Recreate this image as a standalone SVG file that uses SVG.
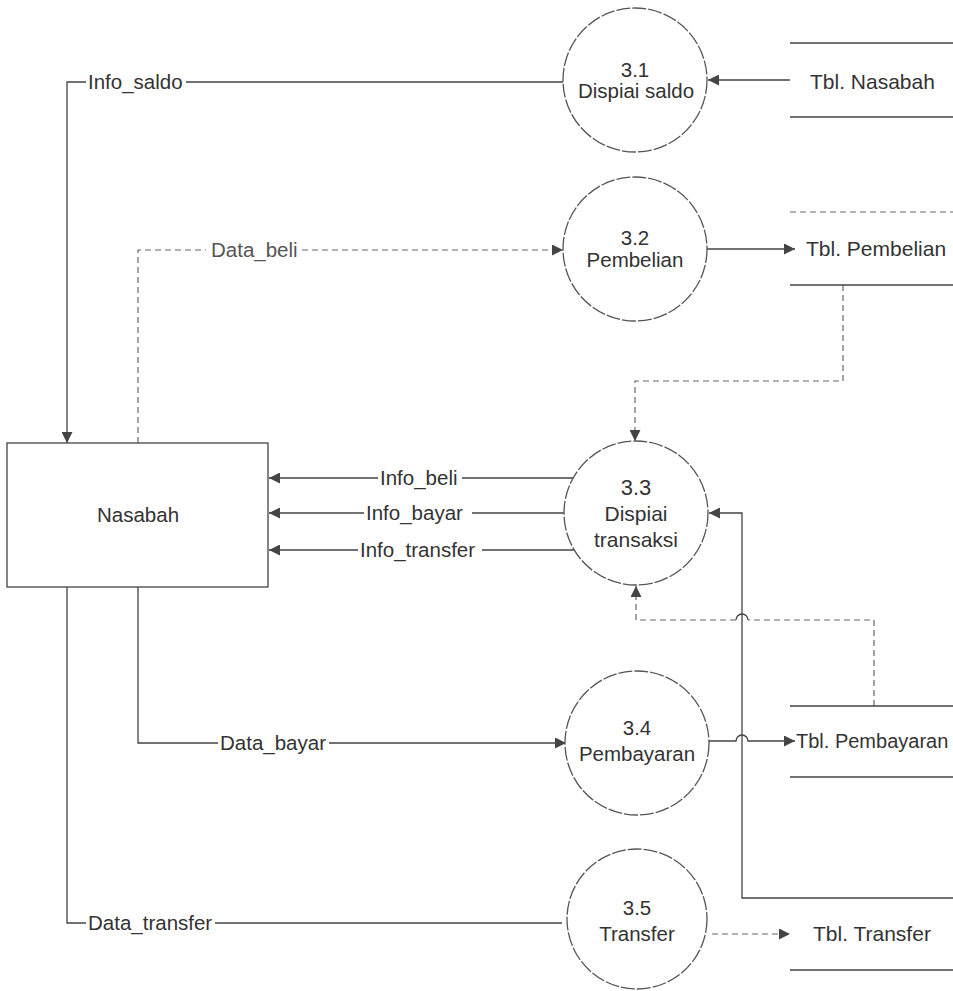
<svg xmlns="http://www.w3.org/2000/svg" width="953" height="991" viewBox="0 0 953 991">
<defs>
<style>
.t{font-family:"Liberation Sans",Arial,sans-serif;font-size:20.5px;fill:#333}
.st{font-family:"Liberation Sans",Arial,sans-serif;font-size:21px;fill:#333}
.c{font-family:"Liberation Sans",Arial,sans-serif;font-size:20.5px;fill:#333;text-anchor:middle}
.l{fill:none;stroke:#444;stroke-width:1.3}
.d{fill:none;stroke:#666;stroke-width:1.2;stroke-dasharray:6 4}
.p{fill:#fff;stroke:#555;stroke-width:1.3;stroke-dasharray:14 2}
.s{fill:none;stroke:#444;stroke-width:1.3}
</style>
<marker id="a" viewBox="0 0 10 10" refX="10" refY="5" markerWidth="11" markerHeight="11" markerUnits="userSpaceOnUse" orient="auto">
<path d="M0 0 L10 5 L0 10 Z" fill="#444"/>
</marker>
</defs>
<rect width="953" height="991" fill="#fff"/>
<g id="connectors">
<path class="l" d="M790 80 H708" marker-end="url(#a)"/>
<path class="l" d="M563 82 H186 M86 82 H67 V443" marker-end="url(#a)"/>
<path class="d" d="M138 443 V250 H206 M302 250 H563" marker-end="url(#a)"/>
<path class="l" d="M707 249 H795" marker-end="url(#a)"/>
<path class="d" d="M843 285 V381 H635 V441" marker-end="url(#a)"/>
<path class="l" d="M575 478 H462 M378 478 H269" marker-end="url(#a)"/>
<path class="l" d="M565 513 H472 M364 513 H269" marker-end="url(#a)"/>
<path class="l" d="M574 550 H482 M358 550 H269" marker-end="url(#a)"/>
<path class="l" d="M953 898 H742 V513 H709" marker-end="url(#a)"/>
<path class="d" d="M874 706 V620 H748"/>
<path class="l" d="M748 620 A6 6 0 0 0 736 620"/>
<path class="d" d="M736 620 H636 V586" marker-end="url(#a)"/>
<path class="l" d="M138 587 V743 H218 M329 743 H566" marker-end="url(#a)"/>
<path class="l" d="M708 741 H736 A6 6 0 0 1 748 741 H795" marker-end="url(#a)"/>
<path class="l" d="M67 587 V923 H86 M215 923 H562"/>
<path class="d" d="M712 934 H790" marker-end="url(#a)"/>
<text class="t" x="88" y="89">Info_saldo</text>
<text class="t" x="211" y="257" style="fill:#555">Data_beli</text>
<text class="t" x="380" y="485">Info_beli</text>
<text class="t" x="366" y="520">Info_bayar</text>
<text class="t" x="360" y="557">Info_transfer</text>
<text class="t" x="220" y="750">Data_bayar</text>
<text class="t" x="88" y="930">Data_transfer</text>
</g>
<g id="nasabah">
<rect x="7" y="443" width="261" height="144" fill="#fff" stroke="#444" stroke-width="1.3"/>
<text class="c" x="138" y="522">Nasabah</text>
</g>
<g id="p31">
<circle class="p" cx="635" cy="80" r="72"/>
<text class="c" x="635" y="77">3.1</text>
<text class="c" x="636" y="98">Dispiai saldo</text>
</g>
<g id="p32">
<circle class="p" cx="635" cy="249" r="72"/>
<text class="c" x="635" y="245">3.2</text>
<text class="c" x="635" y="267">Pembelian</text>
</g>
<g id="p33">
<circle class="p" cx="636" cy="513" r="72"/>
<text class="c" x="636" y="495" style="font-size:22px">3.3</text>
<text class="c" x="636" y="521" style="font-size:21px">Dispiai</text>
<text class="c" x="636" y="547" style="font-size:21px">transaksi</text>
</g>
<g id="p34">
<circle class="p" cx="637" cy="743" r="72"/>
<text class="c" x="637" y="735">3.4</text>
<text class="c" x="637" y="761">Pembayaran</text>
</g>
<g id="p35">
<circle class="p" cx="637" cy="919" r="70"/>
<text class="c" x="637" y="915">3.5</text>
<text class="c" x="637" y="941">Transfer</text>
</g>
<g id="tbl_nasabah">
<path class="s" d="M790 43 H953 M790 117 H953"/>
<text class="st" x="810" y="89">Tbl. Nasabah</text>
</g>
<g id="tbl_pembelian">
<path class="d" d="M790 212 H953"/>
<path class="s" d="M790 285 H953"/>
<text class="st" x="806" y="256">Tbl. Pembelian</text>
</g>
<g id="tbl_pembayaran">
<path class="s" d="M790 706 H953 M790 777 H953"/>
<text class="st" x="796" y="748" style="font-size:20px">Tbl. Pembayaran</text>
</g>
<g id="tbl_transfer">
<path class="s" d="M790 970 H953"/>
<text class="st" x="813" y="941">Tbl. Transfer</text>
</g>
</svg>
